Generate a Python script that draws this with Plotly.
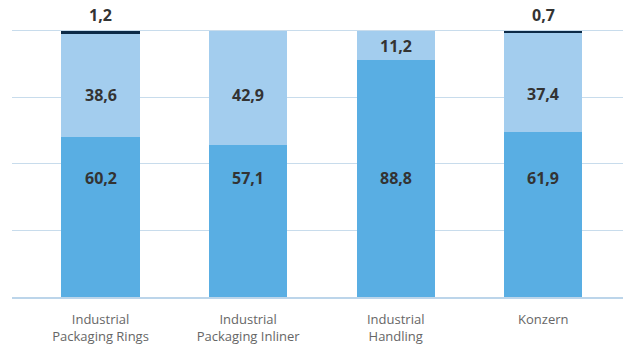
import plotly.graph_objects as go

categories = ["Industrial<br>Packaging Rings", "Industrial<br>Packaging Inliner",
              "Industrial<br>Handling", "Konzern"]
series_a = [60.2, 57.1, 88.8, 61.9]
series_b = [38.6, 42.9, 11.2, 37.4]
series_c = [1.2, 0.0, 0.0, 0.7]

# vertical anchor (in % of axis) used for the in-bar value labels
label_pos_a = [44.6, 44.6, 44.6, 44.6]
label_pos_b = [75.8, 75.8, 94.2, 76.3]


def fmt(v):
    return ("%.1f" % v).replace(".", ",")


label_font = dict(family="Open Sans", size=16, color="#333333")

fig = go.Figure()
fig.add_bar(x=categories, y=series_a, marker_color="#59aee3", width=0.53,
            marker_line_width=0, hoverinfo="skip")
fig.add_bar(x=categories, y=series_b, marker_color="#a3cdee", width=0.53,
            marker_line_width=0, hoverinfo="skip")
fig.add_bar(x=categories, y=series_c, marker_color="#0c2a47", width=0.53,
            marker_line_width=0, hoverinfo="skip")

annotations = []
for i, cat in enumerate(categories):
    annotations.append(dict(x=cat, y=label_pos_a[i], text="<b>%s</b>" % fmt(series_a[i]),
                            showarrow=False, font=label_font, yanchor="middle"))
    annotations.append(dict(x=cat, y=label_pos_b[i], text="<b>%s</b>" % fmt(series_b[i]),
                            showarrow=False, font=label_font, yanchor="middle"))
    if series_c[i] > 0:
        top = series_a[i] + series_b[i] + series_c[i]
        annotations.append(dict(x=cat, y=top, text="<b>%s</b>" % fmt(series_c[i]),
                                showarrow=False, font=label_font, yanchor="bottom",
                                yshift=3))

fig.update_layout(
    barmode="stack",
    width=623, height=345,
    margin=dict(l=12, r=0, t=29, b=44),
    paper_bgcolor="white", plot_bgcolor="white",
    showlegend=False,
    annotations=annotations,
    xaxis=dict(type="category", range=[-0.6, 3.54], showgrid=False,
               showline=True, linecolor="#bcd5ea", linewidth=1.5,
               ticks="", ticklabelstandoff=10,
               tickfont=dict(family="Open Sans", size=13, color="#666666")),
    yaxis=dict(range=[0, 100.6], tickvals=[0, 25, 50, 75, 100], showgrid=True,
               gridcolor="#c8dcec", gridwidth=1, showticklabels=False,
               zeroline=False, showline=False),
)

fig.write_html("out.html")
